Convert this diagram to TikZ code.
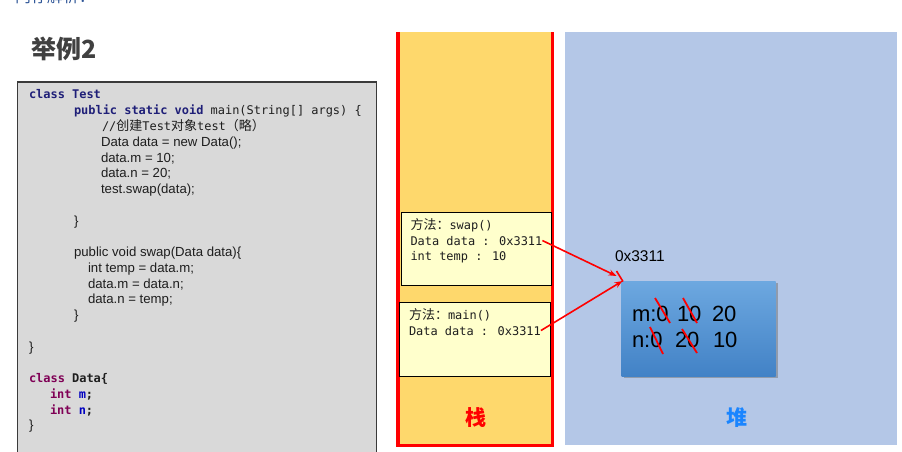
\documentclass[tikz,border=0pt]{standalone}
\usepackage{fontspec}
\setmainfont{Liberation Sans}
\newfontfamily\mono{DejaVu Sans Mono}
\newfontfamily\cjk{Noto Sans CJK SC}
\usetikzlibrary{arrows.meta,shadows}

\definecolor{codebg}{HTML}{D9D9D9}
\definecolor{codeframe}{HTML}{3A3A3A}
\definecolor{codetext}{HTML}{1E1E1E}
\definecolor{navykw}{HTML}{1F1F78}
\definecolor{javakw}{HTML}{7F0055}
\definecolor{fieldblue}{HTML}{0000C0}
\definecolor{stackbg}{HTML}{FED86C}
\definecolor{framebg}{HTML}{FFFFCC}
\definecolor{heapbg}{HTML}{B4C7E7}
\definecolor{heaptop}{HTML}{6DA8E0}
\definecolor{heapbot}{HTML}{4282C6}
\definecolor{titlegray}{HTML}{404040}
\definecolor{heaplabel}{HTML}{1A85FF}
\definecolor{headblue}{HTML}{2E5597}

\newcommand{\zh}[1]{{\cjk\fontsize{13}{13}\selectfont #1}}

\begin{document}
\begin{tikzpicture}[x=1pt,y=-1pt,
  txt/.style={anchor=base west,inner sep=0pt,outer sep=0pt},
  code/.style={txt,text=codetext,font=\mono\fontsize{11.95}{11.95}\selectfont},
  plain/.style={txt,text=codetext,font=\fontsize{13.2}{13.2}\selectfont},
  framebox/.style={draw=black,line width=1pt,fill=framebg},
  val/.style={txt,text=black,font=\fontsize{22}{22}\selectfont},
  strike/.style={red,line width=1.8pt},
  ref/.style={red,line width=1.6pt,-{Stealth[length=8pt,width=6pt]}}]
\useasboundingbox (0,0) rectangle (902,452);
\begin{scope}
\clip (0,0) rectangle (902,452);

% heading cut by the page edge
\node[txt,text=headblue,font=\cjk\fontsize{16}{16}\selectfont] (head) at (15,3) {内存解析：};

% title
\node[inner sep=0pt,text=titlegray,font=\cjk\bfseries\fontsize{25}{25}\selectfont] (title) at (64.5,48.5) {举例2};

% source code panel
\draw[line width=1.8pt,draw=codeframe,fill=codebg] (17.5,82) rectangle (376.5,470);
\node[code] (c0) at (29,99) {\textcolor{navykw}{\bfseries class Test}};
\node[code] (c1) at (74,114.75) {\textcolor{navykw}{\bfseries public static void} main(String[] args) \{};
\node[code] (c2) at (102,130.5) {//\zh{创建}Test\zh{对象}test\zh{（略）}};
\node[plain] (c3) at (101,146.25) {Data data = new Data();};
\node[plain] (c4) at (101,162) {data.m = 10;};
\node[plain] (c5) at (101,177.75) {data.n = 20;};
\node[plain] (c6) at (101,193.5) {test.swap(data);};
\node[plain] (c8) at (74,225) {\}};
\node[plain] (c10) at (74,256.5) {public void swap(Data data)\{};
\node[plain] (c11) at (88,272.25) {int temp = data.m;};
\node[plain] (c12) at (88,288) {data.m = data.n;};
\node[plain] (c13) at (88,303.75) {data.n = temp;};
\node[plain] (c14) at (74,319.5) {\}};
\node[plain] (c16) at (29,351) {\}};
\node[code] (c18) at (29,382.5) {\textbf{\textcolor{javakw}{class} Data\{}};
\node[code] (c19) at (50,398.25) {\textbf{\textcolor{javakw}{int} \textcolor{fieldblue}{m};}};
\node[code] (c20) at (50,414) {\textbf{\textcolor{javakw}{int} \textcolor{fieldblue}{n};}};
\node[plain] (c21) at (29,429.75) {\}};

% stack
\fill[stackbg] (398,32) rectangle (552.5,445.5);
\draw[red,line width=3.5pt] (398,32) -- (398,445.5) -- (552.5,445.5) -- (552.5,32);
\node[txt,anchor=center,text=red,font=\cjk\bfseries\fontsize{21}{21}\selectfont] (stacklbl) at (476,418) {栈};

% heap
\fill[heapbg] (564.5,32) rectangle (896.5,445);
\node[txt,anchor=center,text=heaplabel,font=\cjk\bfseries\fontsize{21}{21}\selectfont] (heaplbl) at (737,418) {堆};

% stack frames
\draw[framebox] (401,212) rectangle (551.5,285.5);
\node[code] (s1) at (410.5,229) {\zh{方法：}swap()};
\node[code] (s2) at (410.5,245) {Data data : 0x3311};
\node[code] (s3) at (410.5,260.5) {int temp : 10};

\draw[framebox] (399.5,302.5) rectangle (550,376.5);
\node[code] (m1) at (409,319) {\zh{方法：}main()};
\node[code] (m2) at (409,335) {Data data : 0x3311};

% object on the heap
\node[txt,text=black,font=\fontsize{15.5}{15.5}\selectfont] (addr) at (615,261) {0x3311};
\path[top color=heaptop,bottom color=heapbot,
  drop shadow={shadow xshift=2pt,shadow yshift=-2pt,opacity=0.45,fill=black!60}]
  (621.5,281) rectangle (775.5,376);
\node[val] (m0) at (632,321) {m:0};
\node[val] (m10) at (677,321) {10};
\node[val] (m20) at (712,321) {20};
\node[val] (n0) at (632,347) {n:0};
\node[val] (n20) at (675,347) {20};
\node[val] (n10) at (713,347) {10};

% overwritten values
\draw[strike] (655,298) -- (670,323);
\draw[strike] (683,298) -- (697,323);
\draw[strike] (650,327) -- (663,354);
\draw[strike] (682,329) -- (697,353);

% references from the stack into the heap
\coordinate (tipA) at (616.5,276);
\coordinate (tipB) at (622.5,281);
\draw[ref] (s2.east) -- (tipA);
\draw[ref] (m2.east) -- (tipB);
\draw[red,line width=1.6pt] (616.5,271) -- (623,281.5);
\end{scope}
\end{tikzpicture}
\end{document}
